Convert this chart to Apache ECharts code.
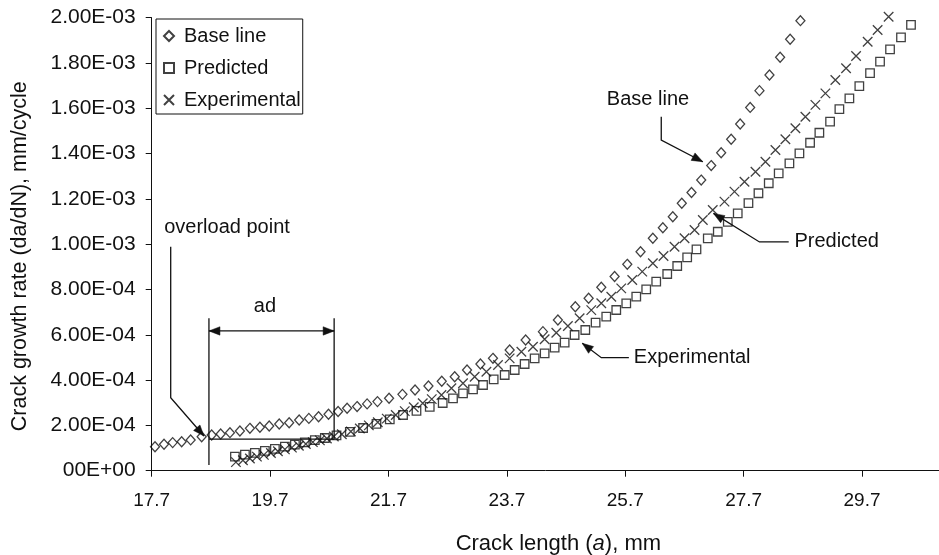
<!DOCTYPE html>
<html><head><meta charset="utf-8">
<script src="https://cdn.jsdelivr.net/npm/echarts@6/dist/echarts.min.js"></script>
<style>html,body{margin:0;padding:0;background:#fff}#c{width:939px;height:555px}</style>
</head><body><div id="c"></div>
<script>
// ---------------- data ----------------
const seriesNames = ['Base line', 'Predicted', 'Experimental'];
const xTickValues = [17.7, 19.7, 21.7, 23.7, 25.7, 27.7, 29.7];
const RATE_UNIT = 1e-4; // rates below are in units of 1E-04 mm/cycle

const baseA = [17.756, 17.908, 18.054, 18.206, 18.358, 18.544, 18.713, 18.865, 19.022, 19.190,
  19.359, 19.528, 19.685, 19.854, 20.022, 20.191, 20.355, 20.519, 20.687, 20.849,
  21.001, 21.170, 21.339, 21.514, 21.710, 21.936, 22.149, 22.375, 22.600, 22.819,
  23.027, 23.253, 23.465, 23.747, 24.017, 24.309, 24.562, 24.856, 25.081, 25.295,
  25.520, 25.734, 25.958, 26.166, 26.335, 26.503, 26.655, 26.819, 26.983, 27.152,
  27.320, 27.489, 27.641, 27.810, 27.967, 28.136, 28.316, 28.485, 28.659];
const baseRate = [1.06, 1.17, 1.24, 1.28, 1.36, 1.50, 1.58, 1.62, 1.68, 1.75,
  1.87, 1.92, 1.97, 2.06, 2.12, 2.24, 2.31, 2.38, 2.49, 2.61,
  2.76, 2.83, 2.95, 3.05, 3.20, 3.37, 3.56, 3.74, 3.95, 4.15,
  4.45, 4.71, 4.96, 5.33, 5.77, 6.14, 6.65, 7.24, 7.61, 8.10,
  8.57, 9.11, 9.67, 10.26, 10.73, 11.21, 11.81, 12.28, 12.83, 13.47,
  14.04, 14.63, 15.31, 16.04, 16.78, 17.47, 18.25, 19.05, 19.87];

const predA = [19.106, 19.275, 19.443, 19.612, 19.781, 19.950, 20.119, 20.287, 20.456, 20.625,
  20.822, 21.047, 21.271, 21.497, 21.722, 21.946, 22.173, 22.397, 22.616, 22.790,
  22.959, 23.128, 23.297, 23.477, 23.663, 23.832, 24.000, 24.169, 24.338, 24.507,
  24.676, 24.844, 25.025, 25.199, 25.379, 25.548, 25.717, 25.886, 26.054, 26.223,
  26.409, 26.578, 26.746, 26.903, 27.094, 27.263, 27.432, 27.600, 27.781, 27.950,
  28.124, 28.292, 28.473, 28.642, 28.822, 28.979, 29.160, 29.317, 29.486, 29.654,
  29.835, 30.004, 30.173, 30.358, 30.527];
const predRate = [0.618, 0.706, 0.790, 0.879, 0.967, 1.060, 1.152, 1.249, 1.347, 1.444,
  1.563, 1.717, 1.885, 2.071, 2.269, 2.459, 2.645, 2.821, 2.989, 3.196,
  3.417, 3.594, 3.784, 4.035, 4.225, 4.446, 4.711, 4.962, 5.183, 5.430,
  5.651, 5.991, 6.212, 6.534, 6.799, 7.095, 7.391, 7.682, 8.009, 8.344,
  8.684, 9.037, 9.422, 9.775, 10.26, 10.55, 10.99, 11.36, 11.81, 12.25,
  12.69, 13.13, 13.57, 14.01, 14.48, 14.92, 15.41, 15.96, 16.44, 16.98,
  17.55, 18.06, 18.60, 19.13, 19.68];

const expA = [19.123, 19.241, 19.359, 19.477, 19.595, 19.714, 19.832, 19.950, 20.068, 20.186,
  20.304, 20.422, 20.541, 20.659, 20.777, 20.912, 21.064, 21.216, 21.368, 21.519,
  21.671, 21.823, 21.975, 22.127, 22.279, 22.431, 22.595,
  22.763, 22.959, 23.156, 23.354, 23.550, 23.747, 23.945, 24.141, 24.338, 24.535,
  24.731, 24.929, 25.126, 25.295, 25.464, 25.632, 25.818, 25.987, 26.166, 26.346,
  26.532, 26.701, 26.870, 27.010, 27.178, 27.376, 27.545, 27.714, 27.900, 28.068,
  28.237, 28.405, 28.574, 28.743, 28.912, 29.081, 29.249, 29.430, 29.599, 29.795,
  29.963, 30.149];
const expRate = [0.38, 0.46, 0.54, 0.62, 0.70, 0.78, 0.86, 0.94, 1.02, 1.10,
  1.18, 1.26, 1.34, 1.42, 1.51, 1.61, 1.73, 1.86, 2.00, 2.14,
  2.30, 2.46, 2.63, 2.80, 2.98, 3.16, 3.34,
  3.64, 3.86, 4.15, 4.37, 4.67, 4.96, 5.25, 5.47, 5.80, 6.09,
  6.39, 6.73, 7.09, 7.39, 7.68, 8.05, 8.42, 8.79, 9.16, 9.48,
  9.89, 10.26, 10.63, 11.07, 11.51, 11.88, 12.32, 12.76, 13.20, 13.64,
  14.16, 14.63, 15.12, 15.63, 16.15, 16.66, 17.25, 17.77, 18.31, 18.94,
  19.46, 20.04];

// annotation anchors in data units (crack length mm, rate in 1E-04)
const calloutTexts = ['overload point', 'Base line', 'Predicted', 'Experimental'];
const calloutTextAt = [[17.911, 10.72], [25.389, 16.37], [28.557, 10.10], [25.845, 5.02]];
const calloutPaths = [
  [[18.021, 9.89], [18.021, 3.22], [18.583, 1.53]],
  [[26.308, 15.63], [26.308, 14.60], [27.010, 13.64]],
  [[28.461, 10.10], [27.967, 10.10], [27.19, 11.36]],
  [[25.761, 4.99], [25.295, 4.99], [24.974, 5.625]]
];
const adLeftA = 18.667, adRightA = 20.782;
const adTopRate = 6.73, adLeftBottomRate = 0.25, adBaseRate = 1.39, adArrowRate = 6.17;
const adLabelAt = [19.612, 7.27];

// ---------------- chart ----------------
const FONT = '"Liberation Sans", Arial, sans-serif';
const INK = '#111';
const pairs = (xs, ys) => xs.map((x, i) => [x, ys[i] * RATE_UNIT]);

function fmtY(v) {
  if (Math.abs(v) < 1e-12) return '00E+00';
  const e = Math.floor(Math.log10(v) + 1e-9);
  const m = v / Math.pow(10, e);
  return m.toFixed(2) + 'E' + (e < 0 ? '-' : '+') + String(Math.abs(e)).padStart(2, '0');
}

const markStyle = { color: 'rgba(0,0,0,0)', borderColor: INK, borderWidth: 1.3 };
const chart = echarts.init(document.getElementById('c'), null, { renderer: 'canvas' });
chart.setOption({
  animation: false,
  backgroundColor: '#fff',
  grid: { left: 151.7, top: 17.7, right: 0, bottom: 84.3, outerBoundsMode: 'none' },
  legend: {
    orient: 'vertical', left: 156, top: 19,
    padding: [6, 2, 3, 7], itemGap: 10, itemWidth: 10, itemHeight: 10,
    borderColor: INK, borderWidth: 1, backgroundColor: '#fff',
    textStyle: { fontFamily: FONT, fontSize: 20, color: INK, lineHeight: 22, padding: [0, 0, 0, 5] },
    data: seriesNames
  },
  xAxis: {
    type: 'value', min: 17.7, max: 31,
    name: '{n|Crack length (}{i|a}{n|), mm}',
    nameLocation: 'middle', nameGap: 62,
    nameTextStyle: {
      padding: [0, 0, 0, 26],
      rich: {
        n: { fontFamily: FONT, fontSize: 22, color: INK },
        i: { fontFamily: FONT, fontSize: 22, color: INK, fontStyle: 'italic' }
      }
    },
    axisLine: { show: true, onZero: false, lineStyle: { color: INK, width: 1 } },
    axisTick: { show: true, length: 6, customValues: xTickValues, lineStyle: { color: INK } },
    axisLabel: { customValues: xTickValues, formatter: v => v.toFixed(1), margin: 21,
      fontFamily: FONT, fontSize: 19, color: INK },
    splitLine: { show: false }
  },
  yAxis: {
    type: 'value', min: 0, max: 0.002, interval: 0.0002,
    name: 'Crack growth rate (da/dN), mm/cycle',
    nameLocation: 'middle', nameRotate: 90, nameGap: 121,
    nameTextStyle: { fontFamily: FONT, fontSize: 21.5, color: INK, padding: [0, 24, 0, 0] },
    axisLine: { show: true, lineStyle: { color: INK, width: 1 } },
    axisTick: { show: true, length: 6, lineStyle: { color: INK } },
    axisLabel: { formatter: fmtY, margin: 16, fontFamily: FONT, fontSize: 21, color: INK },
    splitLine: { show: false }
  },
  series: [
    { name: seriesNames[0], type: 'scatter', symbol: 'diamond', symbolSize: [9, 10], clip: false,
      itemStyle: markStyle, data: pairs(baseA, baseRate) },
    { name: seriesNames[1], type: 'scatter', symbol: 'rect', symbolSize: 8.5, clip: false,
      itemStyle: markStyle, data: pairs(predA, predRate) },
    { name: seriesNames[2], type: 'scatter', symbol: 'path://M0,0L10,10M10,0L0,10', symbolSize: 9.5, clip: false,
      itemStyle: markStyle, data: pairs(expA, expRate) }
  ]
});

// ---------------- annotations (anchored through the axes) ----------------
const px = p => chart.convertToPixel({ gridIndex: 0 }, [p[0], p[1] * RATE_UNIT]);
const lineStyle = { stroke: INK, lineWidth: 1.3, fill: null };
function arrowHead(from, tip, L = 11, W = 4.2) {
  const dx = tip[0] - from[0], dy = tip[1] - from[1];
  const len = Math.hypot(dx, dy);
  const ux = dx / len, uy = dy / len;
  const bx = tip[0] - ux * L, by = tip[1] - uy * L;
  return { type: 'polygon', shape: { points: [tip, [bx - uy * W, by + ux * W], [bx + uy * W, by - ux * W]] },
    style: { fill: INK, stroke: INK, lineWidth: 0.5 }, silent: true };
}
function label(text, p, align) {
  const q = px(p);
  return { type: 'text', x: q[0], y: q[1], silent: true,
    style: { text, fill: INK, font: '20px ' + FONT, align: align || 'left', verticalAlign: 'middle' } };
}
const g = [];
calloutTexts.forEach((t, i) => {
  g.push(label(t, calloutTextAt[i]));
  const pts = calloutPaths[i].map(px);
  const n = pts.length;
  g.push({ type: 'polyline', shape: { points: pts }, style: lineStyle, silent: true });
  g.push(arrowHead(pts[n - 2], pts[n - 1]));
});
// "ad" dimension
const L1 = px([adLeftA, adTopRate]), L2 = px([adLeftA, adLeftBottomRate]);
const R1 = px([adRightA, adTopRate]), R2 = px([adRightA, adBaseRate]);
const LB = px([adLeftA, adBaseRate]);
const AL = px([adLeftA, adArrowRate]), AR = px([adRightA, adArrowRate]);
g.push({ type: 'line', shape: { x1: L1[0], y1: L1[1], x2: L2[0], y2: L2[1] }, style: lineStyle, silent: true });
g.push({ type: 'line', shape: { x1: R1[0], y1: R1[1], x2: R2[0], y2: R2[1] }, style: lineStyle, silent: true });
g.push({ type: 'line', shape: { x1: LB[0], y1: LB[1], x2: R2[0], y2: R2[1] }, style: lineStyle, silent: true });
g.push({ type: 'line', shape: { x1: AL[0], y1: AL[1], x2: AR[0], y2: AR[1] }, style: lineStyle, silent: true });
g.push(arrowHead(AR, AL));
g.push(arrowHead(AL, AR));
g.push(label('ad', adLabelAt, 'center'));
chart.setOption({ graphic: g });
</script>
</body></html>
